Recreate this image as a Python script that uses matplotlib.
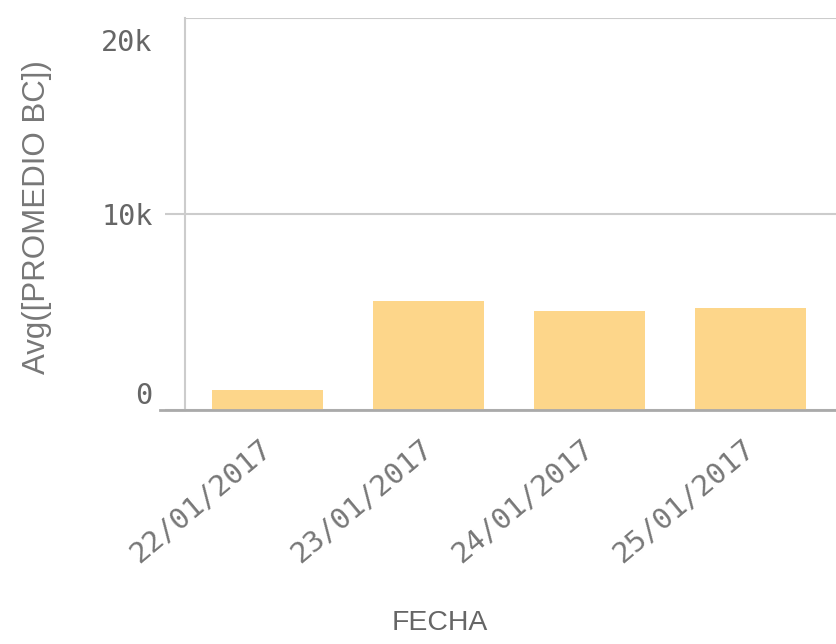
import matplotlib
matplotlib.use("Agg")
import matplotlib.pyplot as plt
import matplotlib.transforms as mtrans

categories = ["22/01/2017", "23/01/2017", "24/01/2017", "25/01/2017"]
values = [1020, 5560, 5060, 5220]
yticks = [0, 10000, 20000]
ytick_labels = ["0", "10k", "20k"]

fig = plt.figure(figsize=(8.37, 6.44), dpi=100)
ax = fig.add_axes([185/837, (644-410)/644, 1 - 185/837, (410-18)/644])

x = list(range(len(categories)))
ax.bar(x, values, width=0.69, color="#FDD68A", zorder=3)

ax.set_xlim(-0.51, 3.54)
ax.set_ylim(0, 20000)
ax.set_yticks(yticks)
ax.set_yticklabels(ytick_labels, family="DejaVu Sans Mono", fontsize=20.5, color="#666666")
ax.set_xticks(x)
ax.set_xticklabels(categories, family="DejaVu Sans Mono", fontsize=21, color="#777777",
                   rotation=40, ha="right", rotation_mode="anchor")

ax.tick_params(axis="y", length=14.4, width=1.5, color="#cccccc", pad=9)
ax.tick_params(axis="x", length=0, pad=17)
ax.yaxis.get_major_ticks()[2].tick1line.set_visible(False)

# shift end labels inward, as in the reference
labs = ax.get_yticklabels()
labs[0].set_transform(labs[0].get_transform() + mtrans.ScaledTranslation(0, 17/100, fig.dpi_scale_trans))
labs[2].set_transform(labs[2].get_transform() + mtrans.ScaledTranslation(0, -22/100, fig.dpi_scale_trans))
for lab in ax.get_xticklabels():
    lab.set_transform(lab.get_transform() + mtrans.ScaledTranslation(-8/100, 0, fig.dpi_scale_trans))

ax.grid(axis="y", color="#cccccc", linewidth=1.5, zorder=0)
for s in ["top", "right"]:
    ax.spines[s].set_visible(False)
ax.spines["left"].set_color("#cccccc")
ax.spines["left"].set_linewidth(1.5)
ax.spines["bottom"].set_color("#aaaaaa")
ax.spines["bottom"].set_linewidth(2)
ax.spines["bottom"].set_zorder(4)
ax.spines["bottom"].set_bounds(-0.51 - 25/161, 3.54)
ax.spines["bottom"].set_clip_on(False)

ax.set_ylabel("Avg([PROMEDIO BC])", family="Liberation Sans", fontsize=22.5, color="#777777")
ax.yaxis.set_label_coords((37-185)/652, (410-217)/392)
ax.set_xlabel("FECHA", family="Liberation Sans", fontsize=20.4, color="#666666")
ax.xaxis.set_label_coords((440-185)/652, -(623-410)/392)
ax.xaxis.label.set_va("center")
ax.yaxis.label.set_va("center")

fig.savefig("out.png", dpi=100)
